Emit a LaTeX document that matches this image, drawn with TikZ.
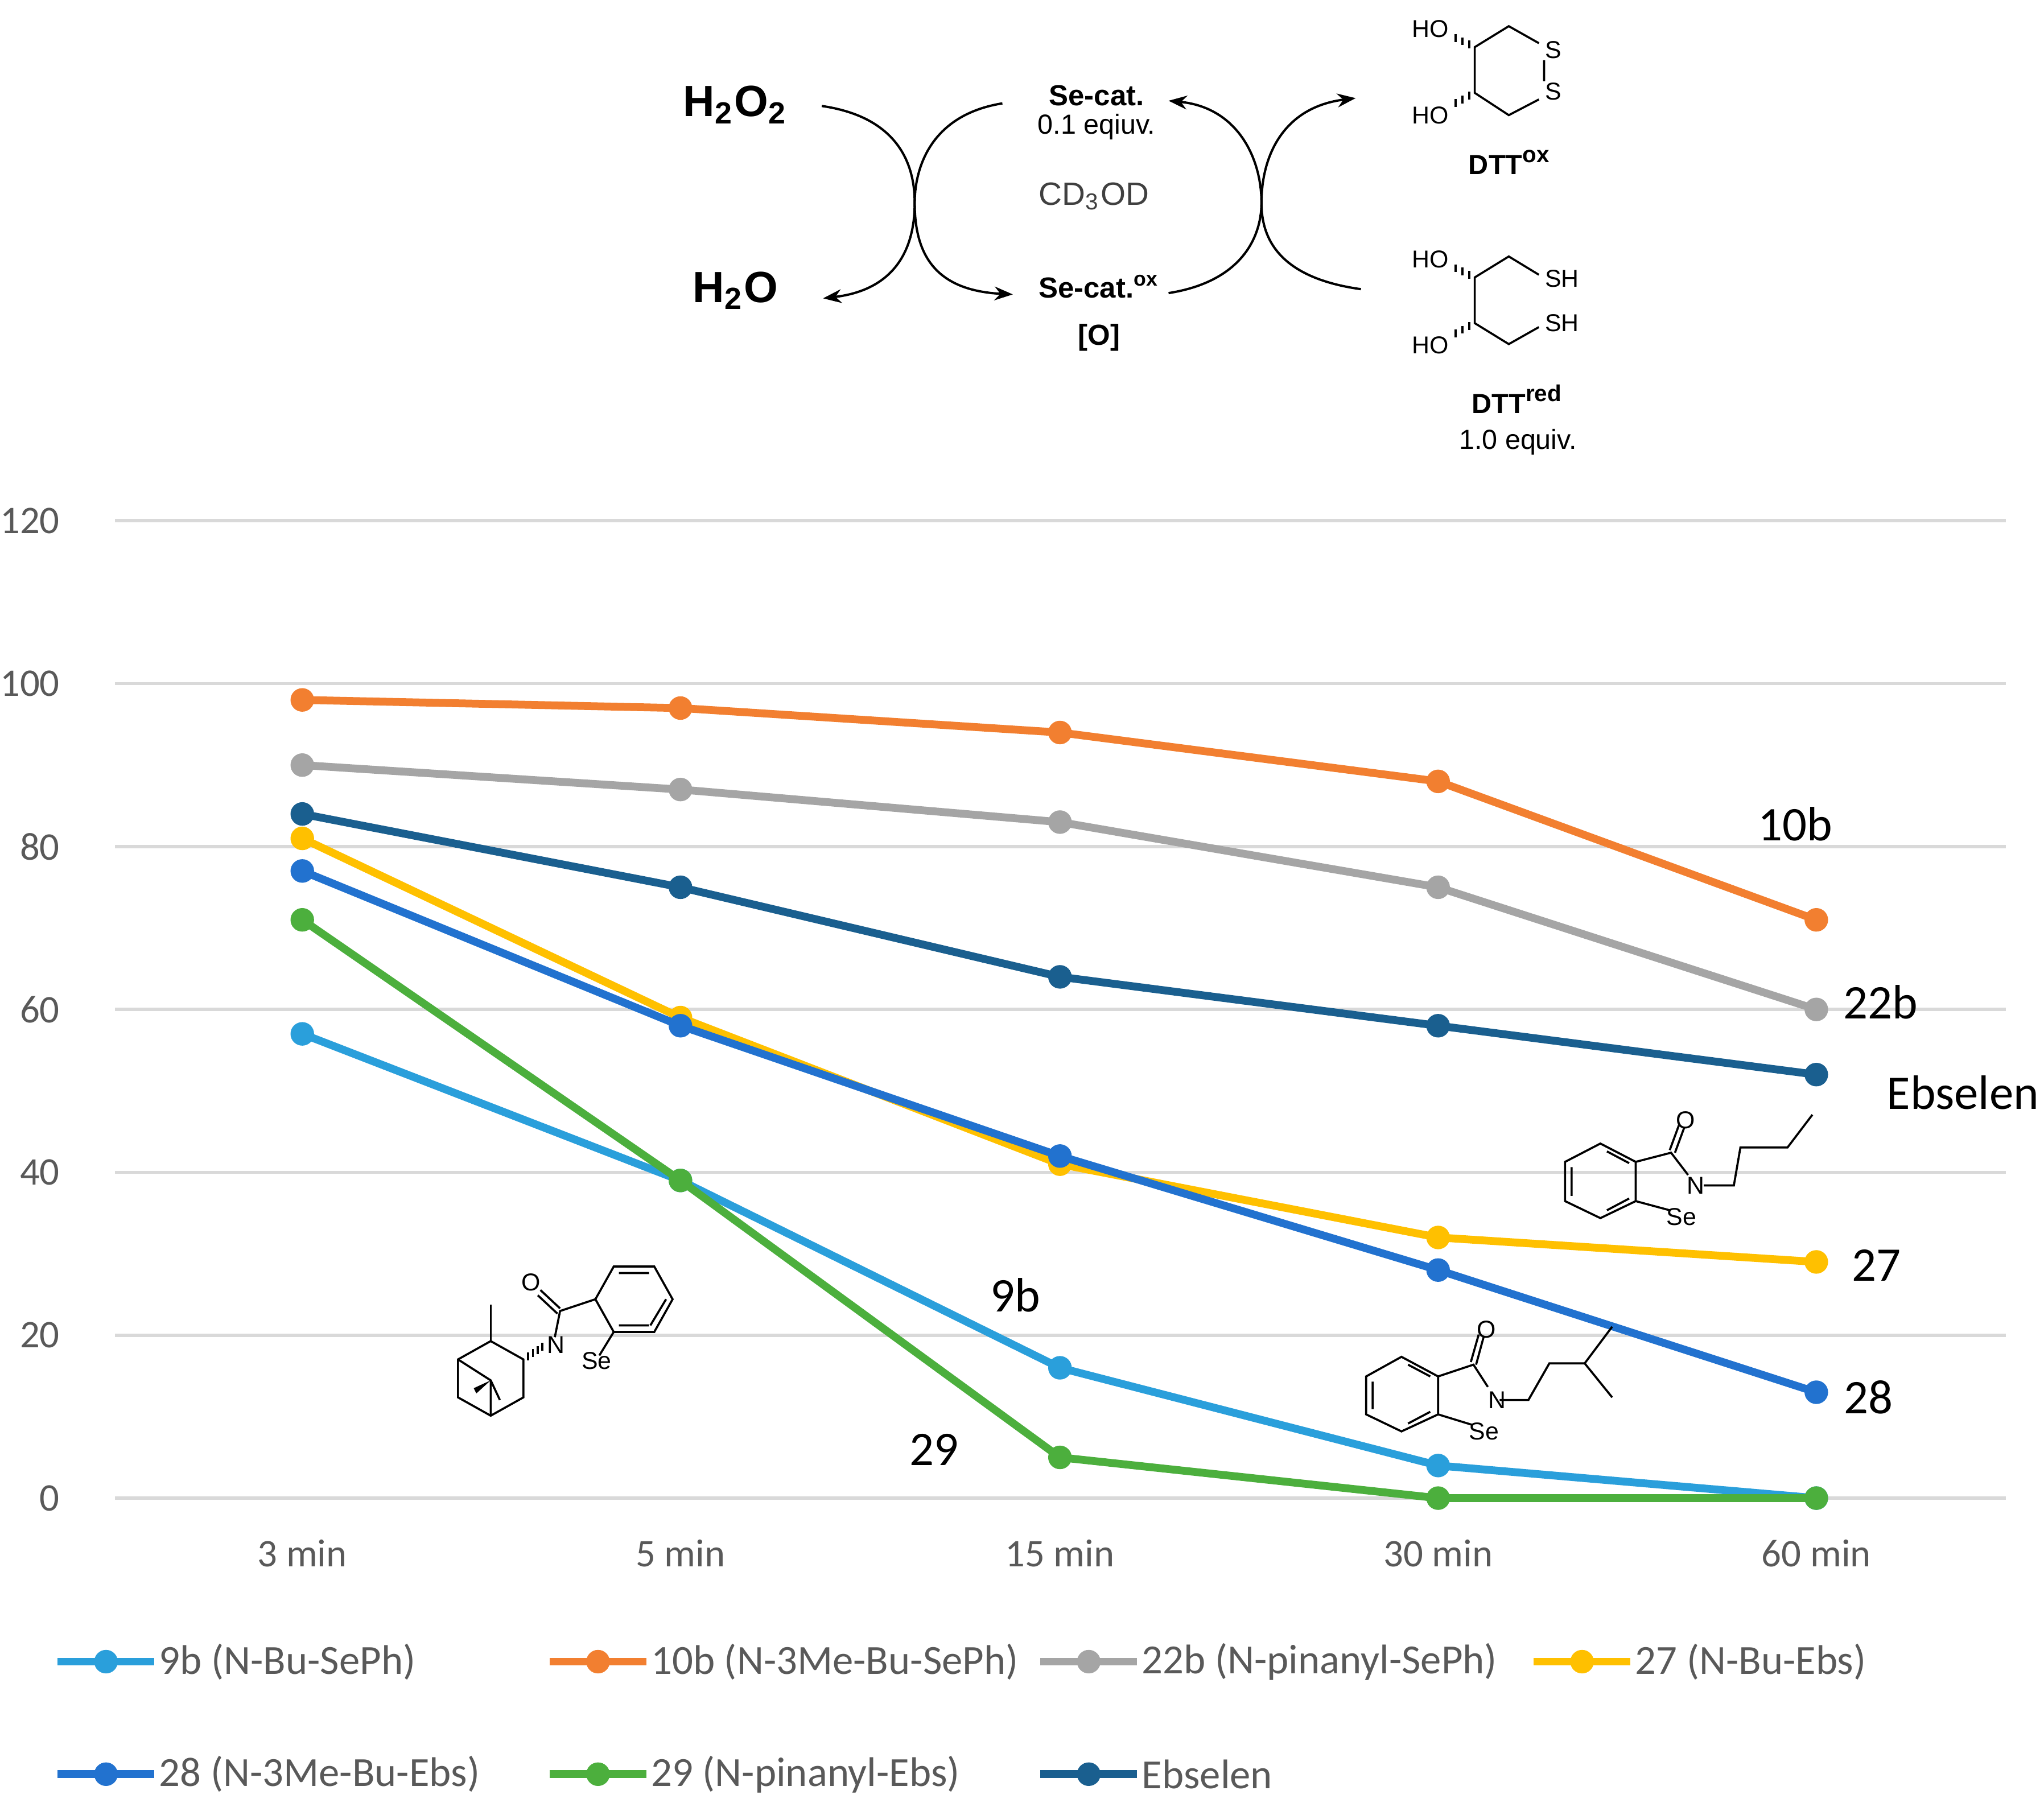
\documentclass[tikz,border=0pt]{standalone}
\usepackage{fontspec}
\setmainfont{Carlito}
\newfontfamily\arial{Liberation Sans}
\usetikzlibrary{arrows.meta,calc}
\definecolor{c9b}{HTML}{2A9FDB}
\definecolor{c10b}{HTML}{F27F30}
\definecolor{c22b}{HTML}{A5A5A5}
\definecolor{c27}{HTML}{FFC000}
\definecolor{c28}{HTML}{2272CF}
\definecolor{c29}{HTML}{4CAF3D}
\definecolor{cEb}{HTML}{1A5F8F}
\definecolor{grid}{HTML}{D9D9D9}
\definecolor{axtxt}{HTML}{595959}
\newcommand\myser[6]{%
 \draw[serl,#1] (231,{1145-#2*6.225}) -- (520,{1145-#3*6.225}) -- (810,{1145-#4*6.225}) -- (1099,{1145-#5*6.225}) -- (1388,{1145-#6*6.225});
 \foreach \v/\xx in {#2/231,#3/520,#4/810,#5/1099,#6/1388} \fill[#1] (\xx,{1145-\v*6.225}) circle[radius=0.09cm];}
\newcommand\myleg[4]{%
 \draw[serl,#1] (#2-37,#3) -- (#2+37,#3); \fill[#1] (#2,#3) circle[radius=0.09cm];
 \node[legt] at (#2+40,#3) {#4};}
\tikzset{serl/.style={line width=1.7pt,line join=round},
 legt/.style={anchor=west,font=\fontsize{9}{11}\selectfont,text=axtxt,inner sep=0pt},
 axl/.style={font=\fontsize{8.5}{10}\selectfont,text=axtxt},
 lab/.style={font=\fontsize{10.5}{12}\selectfont},
 sch/.style={font=\arial\fontsize{6}{7}\selectfont,inner sep=0pt},
 chem/.style={font=\arial\fontsize{5.3}{6}\selectfont,inner sep=0pt},
 arc/.style={line width=0.5pt,-{Stealth[length=4pt,width=3pt]}},
 bd/.style={line width=0.45pt}}
\begin{document}
\begin{tikzpicture}[x=0.01cm,y=-0.01cm]
\useasboundingbox (0,0) rectangle (1562,1384);
% grid
\foreach \v in {0,20,...,120} {
 \draw[grid,line width=0.7pt] (88,{1145-\v*6.225}) -- (1533,{1145-\v*6.225});
 \node[axl,anchor=east] at (58,{1145-\v*6.225}) {\v};}
\foreach \xx/\t in {231/3 min,520/5 min,810/15 min,1099/30 min,1388/60 min}
 \node[axl] at (\xx,1187) {\t};
% series
\myser{c9b}{57}{39}{16}{4}{0}
\myser{c10b}{98}{97}{94}{88}{71}
\myser{c22b}{90}{87}{83}{75}{60}
\myser{c27}{81}{59}{41}{32}{29}
\myser{c28}{77}{58}{42}{28}{13}
\myser{c29}{71}{39}{5}{0}{0}
\myser{cEb}{84}{75}{64}{58}{52}
% labels
\node[lab] (l10b) at (1372,630) {10b};
\node[lab] (l22b) at (1437,766) {22b};
\node[lab] (lEb) at (1500,835) {Ebselen};
\node[lab] (l27) at (1434,967) {27};
\node[lab] (l28) at (1428,1068) {28};
\node[lab] (l9b) at (776,990) {9b};
\node[lab] (l29) at (714,1108) {29};
% legend
\myleg{c9b}{81}{1270}{9b (N-Bu-SePh)}
\myleg{c10b}{457}{1270}{10b (N-3Me-Bu-SePh)}
\myleg{c22b}{832}{1270}{22b (N-pinanyl-SePh)}
\myleg{c27}{1209}{1270}{27 (N-Bu-Ebs)}
\myleg{c28}{81}{1356}{28 (N-3Me-Bu-Ebs)}
\myleg{c29}{457}{1356}{29 (N-pinanyl-Ebs)}
\myleg{cEb}{832}{1356}{Ebselen}
% scheme
\node[font=\arial\bfseries\fontsize{9.5}{11}\selectfont] (h2o2) at (562,80) {H\textsubscript{2}O\textsubscript{2}};
\node[font=\arial\bfseries\fontsize{9.5}{11}\selectfont] (h2o) at (562,222) {H\textsubscript{2}O};
\node[sch,font=\arial\bfseries\fontsize{6.3}{7}\selectfont] (sec) at (838,73) {Se-cat.};
\node[sch] (eq1) at (838,97) {0.1 eqiuv.};
\node[sch,font=\arial\fontsize{7}{8}\selectfont,text=black!75] (cd) at (836,150) {CD\textsubscript{3}OD};
\node[sch,font=\arial\bfseries\fontsize{6.3}{7}\selectfont] (secox) at (840,219) {Se-cat.\textsuperscript{ox}};
\node[sch,font=\arial\bfseries\fontsize{6.3}{7}\selectfont] (oo) at (840,258) {[O]};
\draw[arc] (628,81) .. controls (690,90) and (699,130) .. (699,155) .. controls (699,195) and (680,222) .. (629,228);
\draw[arc] (766,79) .. controls (710,88) and (699,130) .. (699,155) .. controls (699,195) and (715,222) .. (774,225);
\draw[arc] (1040,221) .. controls (975,212) and (964,180) .. (964,155) .. controls (964,120) and (980,82) .. (1036,75);
\draw[arc] (893,224) .. controls (950,215) and (964,180) .. (964,155) .. controls (964,120) and (945,82) .. (893,77);
% DTT ox
\draw[bd] (1176,33) -- (1153,20) -- (1127,36) -- (1127,71) -- (1153,88) -- (1176,76) (1180,46) -- (1180,62);
\node[chem] at (1187,38) {S};
\node[chem] at (1187,70) {S};
\node[chem] (ho1) at (1093,22) {HO};
\node[chem] (ho2) at (1093,88) {HO};
\foreach \t in {0.2,0.45,0.7} {\draw[bd] ($(1127,36)!\t!(1106,26)$) ++(0,-3) -- ++(0,6);}
\foreach \t in {0.2,0.45,0.7} {\draw[bd] ($(1127,71)!\t!(1106,82)$) ++(0,-3) -- ++(0,6);}
\node[sch,font=\arial\bfseries\fontsize{6}{7}\selectfont] (dttox) at (1154,124) {DTT\textsuperscript{ox}};
% DTT red
\draw[bd] (1176,210) -- (1153,196) -- (1127,212) -- (1127,247) -- (1153,263) -- (1176,250);
\node[chem,anchor=west] at (1180,213) {SH};
\node[chem,anchor=west] at (1180,247) {SH};
\node[chem] at (1093,198) {HO};
\node[chem] at (1093,264) {HO};
\foreach \t in {0.2,0.45,0.7} {\draw[bd] ($(1127,212)!\t!(1106,202)$) ++(0,-3) -- ++(0,6);}
\foreach \t in {0.2,0.45,0.7} {\draw[bd] ($(1127,247)!\t!(1106,258)$) ++(0,-3) -- ++(0,6);}
\node[sch,font=\arial\bfseries\fontsize{6}{7}\selectfont] (dttred) at (1160,305) {DTT\textsuperscript{red}};
\node[sch] (eq2) at (1160,338) {1.0 equiv.};
% structure 27
\draw[bd] (1223,874) -- (1250,888) -- (1250,918) -- (1223,931) -- (1196,918) -- (1196,888) -- cycle;
\draw[bd] (1201,892) -- (1201,914) (1228,880) -- (1245,889) (1228,925) -- (1245,916);
\draw[bd] (1250,888) -- (1277,881) -- (1290,898) (1250,918) -- (1276,925);
\draw[bd] (1276,879) -- (1283,860) (1280,881) -- (1287,862);
\draw[bd] (1302,906) -- (1325,906) -- (1330,877) -- (1366,877) -- (1385,852);
\node[chem] at (1288,856) {O};
\node[chem] at (1296,906) {N};
\node[chem] at (1285,930) {Se};
% structure 28
\draw[bd] (1071,1037) -- (1099,1052) -- (1099,1081) -- (1071,1094) -- (1044,1081) -- (1044,1052) -- cycle;
\draw[bd] (1049,1056) -- (1049,1077) (1076,1043) -- (1093,1052) (1076,1088) -- (1093,1079);
\draw[bd] (1099,1052) -- (1126,1043) -- (1137,1060) (1099,1081) -- (1125,1089);
\draw[bd] (1124,1041) -- (1130,1020) (1128,1043) -- (1134,1021);
\draw[bd] (1146,1070) -- (1168,1070) -- (1184,1042) -- (1211,1042) -- (1232,1014) (1211,1042) -- (1232,1068);
\node[chem] at (1136,1016) {O};
\node[chem] at (1144,1070) {N};
\node[chem] at (1134,1094) {Se};
% structure 29
\draw[bd] (469,968) -- (500,968) -- (514,993) -- (500,1018) -- (469,1018) -- (455,993) -- cycle;
\draw[bd] (473,973) -- (496,973) (509,993) -- (497,1013) (473,1013) -- (496,1013);
\draw[bd] (455,993) -- (428,1002) -- (424,1022) (469,1018) -- (458,1036);
\draw[bd] (428,1000) -- (413,986) (426,1004) -- (411,990);
\node[chem] at (406,980) {O};
\node[chem] at (425,1028) {N};
\node[chem] at (456,1040) {Se};
\draw[bd] (375,1025) -- (400,1039) -- (400,1068) -- (375,1082) -- (350,1068) -- (350,1039) -- cycle;
\draw[bd] (375,1025) -- (375,997);
\draw[bd] (350,1039) -- (375,1055) -- (375,1082);
\fill (375,1055) -- (362,1061) -- (364,1065) -- cycle;
\draw[bd] (375,1055) -- (382,1070);
\foreach \t in {0.2,0.4,0.6,0.8} {\draw[bd] ($(400,1039)!\t!(418,1027)$) ++(0,-3) -- ++(0,6);}
\end{tikzpicture}
\end{document}
